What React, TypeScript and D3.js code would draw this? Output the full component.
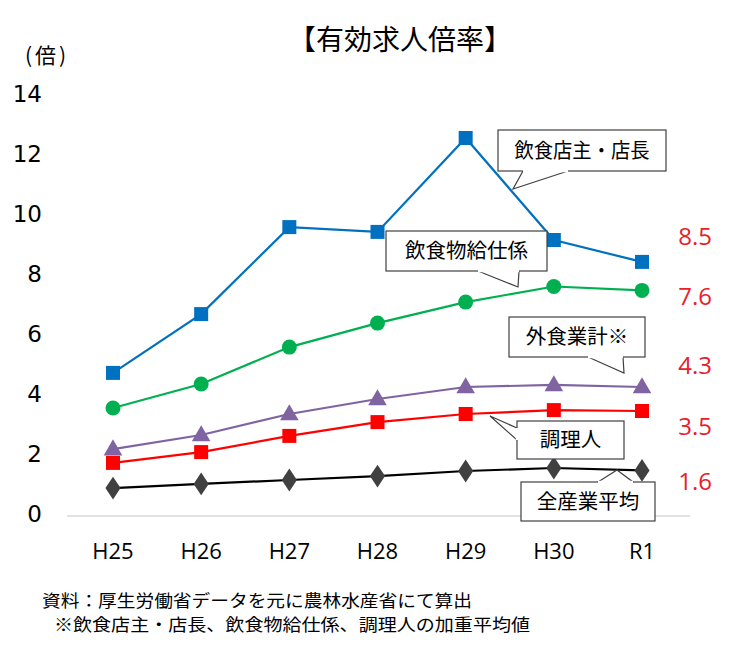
import React from "react";
import * as d3 from "d3";

const categories = ["H25", "H26", "H27", "H28", "H29", "H30", "R1"];
const seriesNames = ["飲食店主・店長", "飲食物給仕係", "外食業計※", "調理人", "全産業平均"];
const ownerManager = [4.77, 6.73, 9.63, 9.47, 12.6, 9.2, 8.47];
const servers = [3.6, 4.4, 5.63, 6.43, 7.13, 7.65, 7.52];
const foodServiceTotal = [2.23, 2.7, 3.4, 3.9, 4.3, 4.37, 4.3];
const cooks = [1.77, 2.13, 2.67, 3.13, 3.4, 3.53, 3.5];
const allIndustries = [0.93, 1.07, 1.2, 1.33, 1.5, 1.6, 1.52];
const yTicks = [0, 2, 4, 6, 8, 10, 12, 14];
const latestLabels = ["8.5", "7.6", "4.3", "3.5", "1.6"];

const JP = "'Noto Sans CJK JP', 'Noto Sans', sans-serif";
const TICK = "'DejaVu Sans', sans-serif";
const NUM = "'Open Sans', 'Noto Sans', sans-serif";

export default function App() {
  const W = 735, H = 655;
  const x = d3.scalePoint<string>().domain(categories).range([113, 642]);
  const y = d3.scaleLinear().domain([0, 14]).range([516, 96]);

  const series = [
    { name: seriesNames[0], values: ownerManager, color: "#0070C0", marker: "square", fill: "#0070C0" },
    { name: seriesNames[1], values: servers, color: "#00B050", marker: "circle", fill: "#00B050" },
    { name: seriesNames[2], values: foodServiceTotal, color: "#8064A2", marker: "triangle", fill: "#8064A2" },
    { name: seriesNames[3], values: cooks, color: "#FF0000", marker: "square", fill: "#FF0000" },
    { name: seriesNames[4], values: allIndustries, color: "#000000", marker: "diamond", fill: "#404040" },
  ];

  const line = d3.line<number>().x((_, i) => x(categories[i])!).y((v) => y(v));

  const marker = (type: string, cx: number, cy: number, fill: string, key: string) => {
    if (type === "square") return <rect key={key} x={cx - 7} y={cy - 7} width={14} height={14} fill={fill} />;
    if (type === "circle") return <circle key={key} cx={cx} cy={cy} r={7.5} fill={fill} />;
    if (type === "triangle") {
      const p = d3.symbol(d3.symbolTriangle, 150)()!;
      return <path key={key} d={p} transform={`translate(${cx},${cy + 1})`} fill={fill} />;
    }
    const p = d3.symbol(d3.symbolDiamond, 150)()!;
    return <path key={key} d={p} transform={`translate(${cx},${cy}) scale(1.15,1)`} fill={fill} />;
  };

  const callouts = [
    { text: seriesNames[0], box: [498, 130, 666, 171], tail: [[523, 171], [513, 189], [568, 171]], len: 135 },
    { text: seriesNames[1], box: [386, 231, 547, 271], tail: [[478, 271], [518, 287], [519, 271]], len: 0 },
    { text: seriesNames[2], box: [509, 317, 645, 357], tail: [[588, 357], [624, 373], [623, 357]], len: 0 },
    { text: seriesNames[3], box: [517, 421, 624, 459], tail: [[517, 428], [490, 416], [517, 440]], len: 0 },
    { text: seriesNames[4], box: [521, 482, 655, 521], tail: [[598, 482], [617, 470], [633, 482]], len: 0 },
  ];

  return (
    <svg width={W} height={H} style={{ display: "block", position: "absolute", left: 0, top: 0 }}>
      <rect x={0} y={0} width={W} height={H} fill="#fff" />
      <text x={400} y={50} textAnchor="middle" fontFamily={JP} fontSize={28} fill="#000">【有効求人倍率】</text>
      <text x={25} y={63} fontFamily={JP} fontSize={21} fill="#000" letterSpacing={3}>(倍)</text>

      {yTicks.map((t) => (
        <text key={t} x={42} y={y(t) + 6} textAnchor="end" fontFamily={TICK} fontSize={23} fill="#000">{t}</text>
      ))}
      <line x1={67} x2={690} y1={516} y2={516} stroke="#D9D9D9" strokeWidth={1.5} />
      {categories.map((c) => (
        <text key={c} x={x(c)!} y={559} textAnchor="middle" fontFamily={NUM} fontSize={22} fill="#000">{c}</text>
      ))}

      {series.map((s) => (
        <g key={s.name}>
          <path d={line(s.values)!} fill="none" stroke={s.color} strokeWidth={2.2} />
          {s.values.map((v, i) => marker(s.marker, x(categories[i])!, y(v), s.fill, s.name + i))}
        </g>
      ))}

      {latestLabels.map((l, i) => (
        <text key={l} x={712} y={[245, 305, 374, 435, 490][i]} textAnchor="end" fontFamily={NUM} fontSize={24} fill="#E8202A">{l}</text>
      ))}

      {callouts.map((c) => {
        const [x0, y0, x1, y1] = c.box;
        return (
          <g key={c.text}>
            <polygon points={c.tail.map((p) => p.join(",")).join(" ")} fill="#fff" stroke="#404040" strokeWidth={1.2} />
            <rect x={x0} y={y0} width={x1 - x0} height={y1 - y0} fill="#fff" stroke="#404040" strokeWidth={1.2} />
            <line x1={c.tail[0][0]} y1={c.tail[0][1]} x2={c.tail[2][0]} y2={c.tail[2][1]} stroke="#fff" strokeWidth={2.5} />
            {c.len ? (
              <text x={(x0 + x1) / 2} y={(y0 + y1) / 2 + 7} textAnchor="middle" fontFamily={JP} fontSize={20.5} fill="#000" textLength={c.len} lengthAdjust="spacingAndGlyphs">{c.text}</text>
            ) : (
              <text x={(x0 + x1) / 2} y={(y0 + y1) / 2 + 7} textAnchor="middle" fontFamily={JP} fontSize={20.5} fill="#000">{c.text}</text>
            )}
          </g>
        );
      })}

      <text x={42} y={607} fontFamily={JP} fontSize={17} fill="#000" textLength={430} lengthAdjust="spacingAndGlyphs">資料：厚生労働省データを元に農林水産省にて算出</text>
      <text x={54} y={631} fontFamily={JP} fontSize={17} fill="#000" textLength={476} lengthAdjust="spacingAndGlyphs">※飲食店主・店長、飲食物給仕係、調理人の加重平均値</text>
    </svg>
  );
}
